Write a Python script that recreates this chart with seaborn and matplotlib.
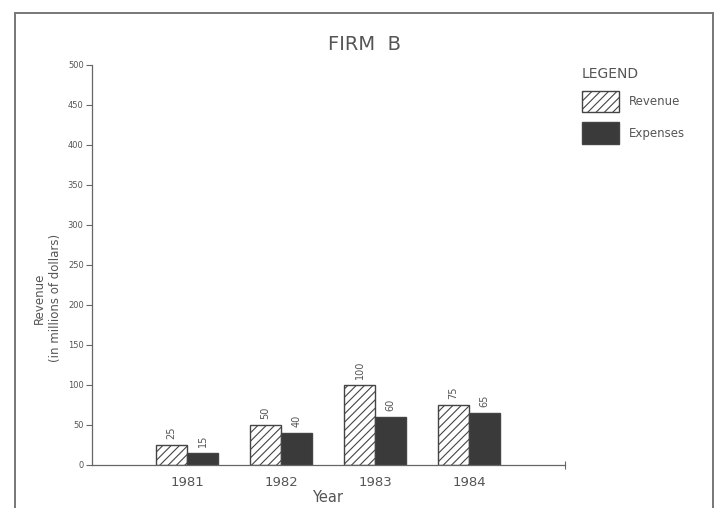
import matplotlib
matplotlib.use("Agg")
import matplotlib.pyplot as plt
from matplotlib.patches import Patch, Rectangle
import pandas as pd
import seaborn as sns

# values
years = ["1981", "1982", "1983", "1984"]
revenue = [25, 50, 100, 75]
expenses = [15, 40, 60, 65]
series_names = ["Revenue", "Expenses"]
y_ticks = [0, 50, 100, 150, 200, 250, 300, 350, 400, 450, 500]

sns.set_style("white")
plt.rcParams["font.family"] = ["DejaVu Sans"]
plt.rcParams["hatch.linewidth"] = 0.8

TEXT = "#555555"
DARK = "#3a3a3a"
EDGE = "#444444"

df = pd.DataFrame({
    "Year": years * 2,
    "Amount": revenue + expenses,
    "Series": [series_names[0]] * len(years) + [series_names[1]] * len(years),
})

fig = plt.figure(figsize=(7.15, 5.08), dpi=100)
ax = fig.add_axes([92 / 715, 1 - 465 / 508, (565 - 92) / 715, (465 - 65) / 508])

sns.barplot(
    data=df,
    x="Year",
    y="Amount",
    hue="Series",
    hue_order=series_names,
    palette={"Revenue": "white", "Expenses": DARK},
    width=0.66,
    edgecolor=EDGE,
    linewidth=1.0,
    legend=False,
    ax=ax,
)

# hatch the revenue bars
for bar in ax.containers[0]:
    bar.set_hatch("////")

for cont in ax.containers:
    ax.bar_label(cont, rotation=90, padding=4, fontsize=7, color=TEXT)

ax.set_xlim(-1.01, 4.02)
ax.set_ylim(0, 500)
ax.set_yticks(y_ticks)
ax.set_yticklabels([str(t) for t in y_ticks], fontsize=6, color=TEXT)
ax.tick_params(axis="y", direction="out", length=4, width=0.8, color="#666666", pad=2, left=True)
ax.tick_params(axis="x", length=0, labelsize=9.5, labelcolor=TEXT, pad=8)
ax.set_xticks([4.02], minor=True)
ax.tick_params(axis="x", which="minor", direction="inout", length=6, width=0.8, color="#666666", bottom=True)

sns.despine(ax=ax)
for side in ["left", "bottom"]:
    ax.spines[side].set_color("#666666")
    ax.spines[side].set_linewidth(0.9)

ax.set_xlabel("")
ax.set_ylabel("")
fig.text(328 / 715, 1 - 498 / 508, "Year", ha="center", va="center",
         fontsize=10.5, color=TEXT)
fig.text(47 / 715, 1 - 298 / 508, "Revenue\n(in millions of dollars)", rotation=90,
         ha="center", va="center", fontsize=8.5, color=TEXT, linespacing=1.3)

fig.text(365 / 715, 1 - 45 / 508, "FIRM  B", ha="center", va="center",
         fontsize=14, color=TEXT)

handles = [
    Patch(facecolor="white", edgecolor=EDGE, hatch="////", linewidth=1.0),
    Patch(facecolor=DARK, edgecolor=EDGE, linewidth=1.0),
]
leg = fig.legend(
    handles,
    series_names,
    title="LEGEND",
    loc="upper left",
    bbox_to_anchor=(582 / 715, 1 - 67 / 508),
    frameon=False,
    fontsize=8.5,
    title_fontsize=10,
    alignment="left",
    handlelength=3.1,
    handleheight=2.4,
    handletextpad=0.85,
    labelspacing=0.85,
    borderpad=0,
    borderaxespad=0,
)
leg.get_title().set_color(TEXT)
for t in leg.get_texts():
    t.set_color(TEXT)

# outer frame of the page
fig.patches.append(Rectangle((15 / 715, -0.05), (713 - 15) / 715, 1.05 - 13 / 508,
                             transform=fig.transFigure, fill=False,
                             edgecolor="#777777", linewidth=1.4, clip_on=False))

fig.savefig("out.png", dpi=100)
plt.close(fig)
